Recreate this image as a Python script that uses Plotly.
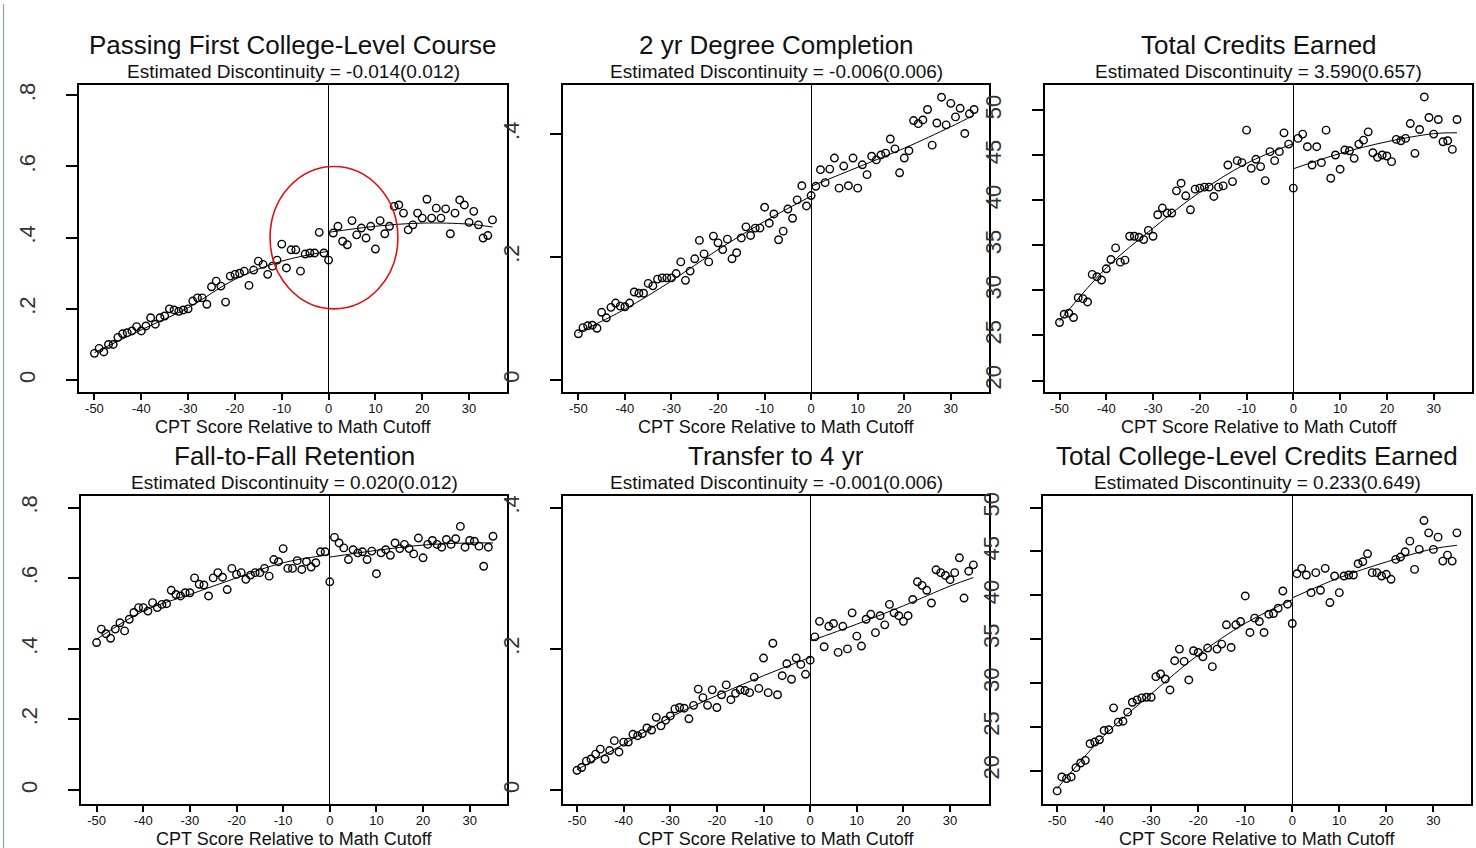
import numpy as np
import plotly.graph_objects as go

# CPT score relative to the math placement cutoff (binned means)
score = list(range(-50, 36))

# Passing first college-level course (share)
pass_first = [
    0.075, 0.089, 0.079, 0.100, 0.100, 0.120, 0.130, 0.133, 0.138, 0.150,
    0.138, 0.152, 0.175, 0.157, 0.175, 0.180, 0.200, 0.197, 0.193, 0.197,
    0.200, 0.222, 0.231, 0.231, 0.213, 0.262, 0.278, 0.264, 0.219, 0.292,
    0.297, 0.300, 0.306, 0.266, 0.309, 0.334, 0.325, 0.297, 0.320, 0.337,
    0.382, 0.315, 0.366, 0.366, 0.306, 0.354, 0.357, 0.357, 0.415, 0.357,
    0.337, 0.413, 0.432, 0.390, 0.380, 0.448, 0.408, 0.427, 0.399, 0.432,
    0.368, 0.448, 0.411, 0.432, 0.488, 0.492, 0.469, 0.422, 0.436, 0.469,
    0.455, 0.508, 0.455, 0.483, 0.455, 0.481, 0.411, 0.469, 0.506, 0.492,
    0.443, 0.474, 0.436, 0.399, 0.406, 0.450,
]

# 2 yr degree completion (share)
degree_2yr = [
    0.075, 0.085, 0.088, 0.089, 0.084, 0.110, 0.101, 0.118, 0.125, 0.120,
    0.119, 0.125, 0.143, 0.141, 0.141, 0.157, 0.153, 0.164, 0.166, 0.166,
    0.166, 0.173, 0.192, 0.162, 0.177, 0.197, 0.227, 0.205, 0.192, 0.234,
    0.223, 0.212, 0.229, 0.197, 0.207, 0.231, 0.249, 0.235, 0.247, 0.247,
    0.281, 0.255, 0.270, 0.228, 0.242, 0.278, 0.263, 0.293, 0.316, 0.283,
    0.300, 0.315, 0.342, 0.321, 0.343, 0.361, 0.312, 0.348, 0.316, 0.361,
    0.312, 0.350, 0.334, 0.364, 0.358, 0.366, 0.369, 0.392, 0.376, 0.337,
    0.361, 0.373, 0.422, 0.417, 0.423, 0.440, 0.382, 0.418, 0.460, 0.415,
    0.450, 0.428, 0.442, 0.401, 0.433, 0.440,
]

# Total credits earned
credits_total = [
    26.44, 27.36, 27.47, 26.99, 29.20, 29.09, 28.72, 31.78, 31.52, 31.15,
    32.40, 33.43, 34.72, 33.14, 33.36, 36.01, 36.01, 35.90, 35.64, 36.67,
    36.01, 38.40, 39.14, 38.59, 38.59, 41.05, 41.90, 40.50, 38.95, 41.24,
    41.35, 41.46, 41.46, 40.43, 41.46, 41.60, 43.92, 42.08, 44.40, 44.18,
    47.79, 43.55, 44.55, 43.74, 42.19, 45.40, 44.40, 45.40, 47.49, 46.24,
    41.35, 46.87, 47.35, 45.95, 43.92, 45.95, 44.18, 47.79, 42.45, 45.03,
    43.45, 45.58, 45.50, 44.66, 46.24, 46.68, 47.60, 45.28, 44.77, 45.03,
    44.92, 44.29, 46.76, 46.61, 46.87, 48.52, 45.21, 47.86, 51.47, 49.19,
    47.35, 48.97, 46.50, 46.61, 45.65, 48.97,
]

# Fall-to-fall retention (share)
retention = [
    0.418, 0.456, 0.443, 0.430, 0.456, 0.474, 0.451, 0.484, 0.503, 0.517,
    0.517, 0.507, 0.531, 0.517, 0.526, 0.528, 0.566, 0.554, 0.550, 0.559,
    0.559, 0.601, 0.583, 0.581, 0.550, 0.601, 0.616, 0.603, 0.568, 0.628,
    0.611, 0.616, 0.597, 0.609, 0.616, 0.616, 0.628, 0.606, 0.653, 0.647,
    0.684, 0.628, 0.628, 0.650, 0.625, 0.647, 0.632, 0.644, 0.675, 0.675,
    0.590, 0.716, 0.700, 0.686, 0.653, 0.681, 0.672, 0.675, 0.653, 0.677,
    0.613, 0.672, 0.681, 0.665, 0.700, 0.684, 0.696, 0.684, 0.669, 0.714,
    0.658, 0.696, 0.707, 0.696, 0.688, 0.710, 0.696, 0.712, 0.747, 0.688,
    0.707, 0.705, 0.691, 0.634, 0.688, 0.719,
]

# Transfer to a 4 yr institution (share)
transfer_4yr = [
    0.028, 0.032, 0.041, 0.044, 0.051, 0.058, 0.044, 0.056, 0.070, 0.054,
    0.068, 0.068, 0.079, 0.077, 0.080, 0.088, 0.085, 0.103, 0.091, 0.099,
    0.105, 0.115, 0.117, 0.116, 0.101, 0.120, 0.143, 0.131, 0.120, 0.142,
    0.117, 0.135, 0.149, 0.128, 0.137, 0.142, 0.141, 0.138, 0.160, 0.144,
    0.187, 0.138, 0.208, 0.135, 0.162, 0.179, 0.157, 0.187, 0.178, 0.164,
    0.184, 0.217, 0.239, 0.203, 0.232, 0.236, 0.195, 0.232, 0.200, 0.251,
    0.218, 0.204, 0.242, 0.249, 0.223, 0.247, 0.234, 0.263, 0.251, 0.247,
    0.239, 0.247, 0.270, 0.295, 0.290, 0.283, 0.265, 0.312, 0.308, 0.304,
    0.298, 0.308, 0.329, 0.272, 0.310, 0.319,
]

# Total college-level credits earned
credits_college = [
    17.69, 19.28, 19.09, 19.28, 20.34, 20.87, 21.17, 23.07, 23.26, 23.52,
    24.58, 24.66, 27.16, 25.53, 25.64, 26.67, 27.80, 28.07, 28.30, 28.37,
    28.37, 30.72, 31.02, 30.45, 29.20, 32.54, 33.86, 32.46, 30.34, 33.67,
    33.48, 32.99, 33.98, 31.86, 33.86, 34.43, 36.63, 34.05, 36.63, 37.01,
    39.92, 35.76, 37.39, 37.01, 35.76, 37.84, 37.92, 38.52, 40.49, 38.98,
    36.78, 42.46, 43.07, 42.31, 40.30, 42.58, 40.57, 43.07, 39.17, 42.20,
    40.30, 42.20, 42.31, 42.31, 43.60, 43.83, 44.73, 42.58, 42.58, 42.20,
    42.39, 41.82, 44.09, 44.36, 44.96, 46.17, 42.95, 45.23, 48.52, 47.12,
    45.23, 46.63, 43.90, 44.58, 43.90, 47.12,
]

# Fitted regression curves on each side of the cutoff, evaluated at these scores
fit_x_below = [-50, -40, -30, -20, -10, 0]
fit_x_above = [0, 10, 20, 30, 35]
fit_pass_below = [0.077, 0.141, 0.203, 0.283, 0.334, 0.362]
fit_pass_above = [0.415, 0.432, 0.441, 0.438, 0.430]
fit_degree_below = [0.077, 0.115, 0.161, 0.212, 0.258, 0.299]
fit_degree_above = [0.315, 0.346, 0.377, 0.412, 0.431]
fit_credits_below = [26.6, 32.5, 36.9, 40.9, 44.1, 46.3]
fit_credits_above = [43.5, 45.2, 46.5, 47.4, 47.5]
fit_retention_below = [0.427, 0.507, 0.554, 0.601, 0.644, 0.667]
fit_retention_above = [0.660, 0.679, 0.694, 0.700, 0.700]
fit_transfer_below = [0.029, 0.065, 0.103, 0.134, 0.162, 0.188]
fit_transfer_above = [0.211, 0.235, 0.261, 0.289, 0.301]
fit_college_below = [17.95, 24.0, 28.75, 33.2, 36.8, 39.5]
fit_college_above = [39.7, 42.0, 43.8, 45.3, 45.7]

titles = [
    "Passing First College-Level Course",
    "2 yr Degree Completion",
    "Total Credits Earned",
    "Fall-to-Fall Retention",
    "Transfer to 4 yr",
    "Total College-Level Credits Earned",
]
subtitles = [
    "Estimated Discontinuity = -0.014(0.012)",
    "Estimated Discontinuity = -0.006(0.006)",
    "Estimated Discontinuity = 3.590(0.657)",
    "Estimated Discontinuity = 0.020(0.012)",
    "Estimated Discontinuity = -0.001(0.006)",
    "Estimated Discontinuity = 0.233(0.649)",
]
series = [pass_first, degree_2yr, credits_total, retention, transfer_4yr, credits_college]
fits = [
    (fit_pass_below, fit_pass_above),
    (fit_degree_below, fit_degree_above),
    (fit_credits_below, fit_credits_above),
    (fit_retention_below, fit_retention_above),
    (fit_transfer_below, fit_transfer_above),
    (fit_college_below, fit_college_above),
]

x_tick_vals = [-50, -40, -30, -20, -10, 0, 10, 20, 30]
x_tick_text = ["-50", "-40", "-30", "-20", "-10", "0", "10", "20", "30"]
share_ticks = [0, 0.2, 0.4, 0.6, 0.8]
share_text = ["0", ".2", ".4", ".6", ".8"]
small_ticks = [0, 0.2, 0.4]
small_text = ["0", ".2", ".4"]
credit_ticks = [20, 25, 30, 35, 40, 45, 50]
credit_text = ["20", "25", "30", "35", "40", "45", "50"]
x_title = "CPT Score Relative to Math Cutoff"

W, H = 1476, 848
FONT = "Liberation Sans, Arial, sans-serif"
INK = "#111111"

# plot frames in pixels: (left, right, top, bottom)
frames = [
    (79, 507, 81, 390), (563, 989, 81, 390), (1045, 1472, 81, 390),
    (81, 507, 494, 804), (563, 989, 494, 804), (1043, 1471, 494, 804),
]
x_ranges = [
    [-53.3, 38.1], [-53.3, 38.2], [-53.1, 38.2],
    [-53.35, 38.0], [-53.0, 38.35], [-53.0, 38.0],
]
y_ranges = [
    [-0.034, 0.830], [-0.020, 0.4805], [18.71, 52.84],
    [-0.040, 0.834], [-0.020, 0.417], [16.17, 51.36],
]
y_tick_sets = [
    (share_ticks, share_text), (small_ticks, small_text), (credit_ticks, credit_text),
    (share_ticks, share_text), (small_ticks, small_text), (credit_ticks, credit_text),
]

fig = go.Figure()
layout = dict(
    width=W, height=H, autosize=False,
    margin=dict(l=0, r=0, t=0, b=0),
    paper_bgcolor="white", plot_bgcolor="white",
    showlegend=False,
    font=dict(family=FONT, color=INK),
)
annotations = []

for i in range(6):
    n = "" if i == 0 else str(i + 1)
    xa, ya = "x" + n, "y" + n
    left, right, top, bottom = frames[i]

    fig.add_trace(go.Scatter(
        x=score, y=series[i], mode="markers", xaxis=xa, yaxis=ya,
        marker=dict(symbol="circle-open", size=7.5, color="black",
                    line=dict(width=1.4, color="black")),
        hoverinfo="x+y",
    ))

    below, above = fits[i]
    for fx, fy in ((fit_x_below, below), (fit_x_above, above)):
        fig.add_trace(go.Scatter(
            x=fx, y=fy, mode="lines", xaxis=xa, yaxis=ya,
            line=dict(color="black", width=1, shape="spline", smoothing=1.0),
            hoverinfo="skip",
        ))

    tv, tt = y_tick_sets[i]
    layout["xaxis" + n] = dict(
        domain=[left / W, right / W], range=x_ranges[i], anchor=ya,
        tickvals=x_tick_vals, ticktext=x_tick_text,
        ticks="outside", ticklen=6, tickwidth=1.5, tickcolor="black",
        tickfont=dict(size=13, color=INK), ticklabelstandoff=-3,
        showline=True, linecolor="black", linewidth=1.8, mirror=True,
        showgrid=False, zeroline=True, zerolinecolor="black", zerolinewidth=1.4,
        fixedrange=True,
    )
    layout["yaxis" + n] = dict(
        domain=[1 - bottom / H, 1 - top / H], range=y_ranges[i], anchor=xa,
        tickvals=tv, ticktext=tt, tickangle=-90,
        ticks="outside", ticklen=11, tickwidth=1.5, tickcolor="black",
        tickfont=dict(size=22, color="#333333"), ticklabelstandoff=22,
        showline=True, linecolor="black", linewidth=1.8, mirror=True,
        showgrid=False, zeroline=False, fixedrange=True,
    )

    cx = (left + right) / 2 / W
    annotations.append(dict(
        text=titles[i], x=cx, y=1 - (top - 40) / H, xref="paper", yref="paper",
        xanchor="center", yanchor="middle", showarrow=False,
        font=dict(size=26, color=INK, family=FONT),
    ))
    annotations.append(dict(
        text=subtitles[i], x=cx, y=1 - (top - 13) / H, xref="paper", yref="paper",
        xanchor="center", yanchor="middle", showarrow=False,
        font=dict(size=19, color=INK, family=FONT),
    ))
    annotations.append(dict(
        text=x_title, x=cx, y=1 - (bottom + 35) / H,
        xref="paper", yref="paper", xanchor="center", yanchor="middle",
        showarrow=False, font=dict(size=18, color=INK, family=FONT),
    ))

layout["annotations"] = annotations
layout["shapes"] = [
    # highlight around the cutoff in the first panel
    dict(type="circle", xref="x", yref="y", x0=-12.5, x1=14.8, y0=0.20, y1=0.60,
         line=dict(color="#e01010", width=1.6)),
    # thin page border on the left
    dict(type="line", xref="paper", yref="paper", x0=3.5 / W, x1=3.5 / W, y0=0, y1=1,
         line=dict(color="#8aa3a3", width=1.2)),
]

fig.update_layout(**layout)
fig.write_html("out.html")
